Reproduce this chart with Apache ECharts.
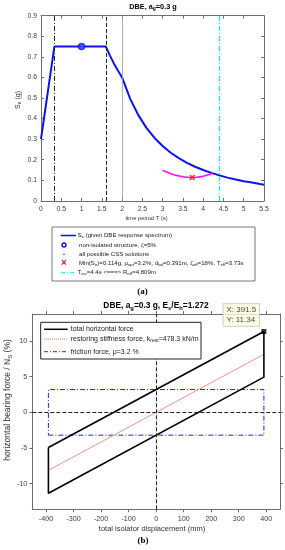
<!DOCTYPE html>
<html><head><meta charset="utf-8">
<script src="https://cdn.jsdelivr.net/npm/echarts@6/dist/echarts.min.js"></script>
<style>html,body{margin:0;padding:0;background:#fff}#c{width:285px;height:550px}</style>
</head><body><div id="c"></div>
<script>
// ---- Chart (a) data ----
const specT  = [0, 0.33, 1.6, 1.7, 1.8, 1.9, 2.0, 2.2, 2.4, 2.6, 2.8, 3.0, 3.2, 3.4, 3.6, 3.8, 4.0, 4.2, 4.4, 4.6, 4.8, 5.0, 5.2, 5.4, 5.5];
const specSe = [0.3, 0.75, 0.75, 0.706, 0.667, 0.632, 0.6, 0.496, 0.417, 0.355, 0.306, 0.267, 0.234, 0.208, 0.185, 0.166, 0.15, 0.136, 0.124, 0.113, 0.104, 0.096, 0.089, 0.082, 0.079];
const cssT   = [3.0, 3.1, 3.2, 3.3, 3.4, 3.5, 3.6, 3.73, 3.85, 3.95, 4.05, 4.15, 4.23];
const cssSe  = [0.149, 0.14, 0.132, 0.126, 0.121, 0.118, 0.115, 0.114, 0.115, 0.118, 0.122, 0.128, 0.134];
const nonIso = [1.0, 0.75];
const minPt  = [3.73, 0.114];
const vT_TB = 0.33, vT_TC = 1.6, vT_TD = 2.0, vT_iso = 4.4;
// ---- Chart (b) data ----
const loopDisp  = [-391.5, 391.5, 391.5, -391.5, -391.5];
const loopForce = [-4.94, 11.34, 4.94, -11.34, -4.94];
const restDisp  = [-391.5, 391.5];
const restForce = [-8.14, 8.14];
const fricDisp  = [-391.5, 391.5, 391.5, -391.5, -391.5];
const fricForce = [-3.2, -3.2, 3.2, 3.2, -3.2];
const tipPt     = [391.5, 11.34];
const xTicksB = [-400,-300,-200,-100,0,100,200,300,400];
const yTicksB = [-10,-5,0,5,10];

const zip = (a,b)=>a.map((v,i)=>[v,b[i]]);
const F = 'Liberation Sans, Arial, sans-serif';
const AX = '#6e6e6e', LB = '#3c3c3c';
const CY = '#19e6f2';

function axA(showLabel, margin){
  return {
    axisLine:{show:true,onZero:false,lineStyle:{color:AX,width:1}},
    axisTick:{show:true,inside:true,length:3,lineStyle:{color:AX}},
    axisLabel:{show:showLabel,fontFamily:F,fontSize:6.8,color:LB,margin:margin||4},
    splitLine:{show:false}
  };
}
function axB(showLabel, ticks, margin){
  return {
    axisLine:{show:true,onZero:false,lineStyle:{color:AX,width:1}},
    axisTick:{show:true,inside:false,length:3,lineStyle:{color:AX},customValues:ticks},
    axisLabel:{show:showLabel,fontFamily:F,fontSize:7.2,color:LB,margin:margin||5,customValues:ticks},
    splitLine:{show:false}
  };
}

const chart = echarts.init(document.getElementById('c'), null, {renderer:'canvas'});
const xSymbol = 'path://M0,2L2,0L5,3L8,0L10,2L7,5L10,8L8,10L5,7L2,10L0,8L3,5Z';

const option = {
  animation:false,
  grid:[
    {left:41, top:15.7, width:223, height:185.2, containLabel:false},
    {left:32.3, top:314, width:247.7, height:195.3, containLabel:false}
  ],
  xAxis:[
    Object.assign(axA(true,5),{type:'value',gridIndex:0,min:0,max:5.5,interval:0.5,position:'bottom'}),
    Object.assign(axA(false),{type:'value',gridIndex:0,min:0,max:5.5,interval:0.5,position:'top'}),
    Object.assign(axB(true,xTicksB,6),{type:'value',gridIndex:1,min:-450,max:450,position:'bottom'}),
    Object.assign(axB(false,xTicksB),{type:'value',gridIndex:1,min:-450,max:450,position:'top'})
  ],
  yAxis:[
    Object.assign(axA(true,4),{type:'value',gridIndex:0,min:0,max:0.9,interval:0.1,position:'left'}),
    Object.assign(axA(false),{type:'value',gridIndex:0,min:0,max:0.9,interval:0.1,position:'right'}),
    Object.assign(axB(true,yTicksB,5),{type:'value',gridIndex:1,min:-13.6,max:13.8,position:'left'}),
    Object.assign(axB(false,yTicksB),{type:'value',gridIndex:1,min:-13.6,max:13.8,position:'right'})
  ],
  series:[
    {type:'line',xAxisIndex:0,yAxisIndex:0,data:[],silent:true,
      markLine:{symbol:'none',silent:true,label:{show:false},animation:false,data:[
        {xAxis:vT_TB, lineStyle:{color:'#222',width:1,type:[5,2,1,2]}},
        {xAxis:vT_TC, lineStyle:{color:'#222',width:1,type:[4,2]}},
        {xAxis:vT_TD, lineStyle:{color:'#999',width:0.8,type:'solid'}},
        {xAxis:vT_iso, lineStyle:{color:CY,width:1.2,type:[5,2,1,2]}}
      ]}},
    {type:'line',xAxisIndex:0,yAxisIndex:0,data:zip(specT,specSe),showSymbol:false,
      lineStyle:{color:'#0a14f0',width:2},z:3},
    {type:'line',xAxisIndex:0,yAxisIndex:0,data:zip(cssT,cssSe),showSymbol:false,smooth:true,
      lineStyle:{color:'#ff10ff',width:1.6},z:3},
    {type:'scatter',xAxisIndex:0,yAxisIndex:0,data:[nonIso],symbol:'circle',symbolSize:6,
      itemStyle:{color:'#3a4cff',borderColor:'#0a14f0',borderWidth:1.5},z:4},
    {type:'scatter',xAxisIndex:0,yAxisIndex:0,data:[minPt],symbol:xSymbol,symbolSize:6,
      itemStyle:{color:'#ff1010'},z:5},
    {type:'line',xAxisIndex:2,yAxisIndex:2,data:[],silent:true,
      markLine:{symbol:'none',silent:true,label:{show:false},animation:false,
        lineStyle:{color:'#222',width:1,type:[4,2]},
        data:[{xAxis:0},{yAxis:0}]}},
    {type:'line',xAxisIndex:2,yAxisIndex:2,data:zip(fricDisp,fricForce),showSymbol:false,
      lineStyle:{color:'#2020ff',width:1,type:[5,2,1,2]},z:3},
    {type:'line',xAxisIndex:2,yAxisIndex:2,data:zip(restDisp,restForce),showSymbol:false,
      lineStyle:{color:'#f49090',width:1},z:3},
    {type:'line',xAxisIndex:2,yAxisIndex:2,data:zip(loopDisp,loopForce),showSymbol:false,
      lineStyle:{color:'#000',width:1.6},z:4},
    {type:'scatter',xAxisIndex:2,yAxisIndex:2,data:[tipPt],symbol:'rect',symbolSize:5,
      itemStyle:{color:'#000'},z:6,
      label:{show:true,position:[-38,-25],formatter:'X: 391.5\nY: 11.34',fontFamily:F,fontSize:8,
        color:'#111',lineHeight:10,backgroundColor:'#fdfbe0',borderColor:'#bbb',borderWidth:0.8,padding:[1,3,1,3],align:'left',verticalAlign:'top'}}
  ],
  graphic:[
    // titles
    {type:'text',x:153,y:7,style:{text:'{b|DBE, a}{s|g}{b|=0.3 g}',align:'center',verticalAlign:'middle',
      rich:{b:{fontSize:7.3,fontFamily:F,fontWeight:'bold'},s:{fontSize:5,fontFamily:F,fontWeight:'bold',padding:[4,0,0,0]}}}},
    {type:'text',x:156,y:306,style:{text:'{b|DBE, a}{s|g}{b|=0.3 g, E}{s|s}{b|/E}{s|h}{b|=1.272}',align:'center',verticalAlign:'middle',
      rich:{b:{fontSize:8.4,fontFamily:F,fontWeight:'bold'},s:{fontSize:5.8,fontFamily:F,fontWeight:'bold',padding:[4,0,0,0]}}}},
    // axis names
    {type:'text',x:18,y:100,rotation:Math.PI/2,style:{text:'{n|S}{s|e}{n| (g)}',align:'center',verticalAlign:'middle',
      rich:{n:{fontSize:7,fontFamily:F,fill:'#333'},s:{fontSize:5,fontFamily:F,fill:'#333',padding:[4,0,0,0]}}}},
    {type:'text',x:146.5,y:218,style:{text:'time period T (s)',align:'center',verticalAlign:'middle',fontSize:5.8,fontFamily:F,fill:'#333'}},
    {type:'text',x:8,y:400,rotation:Math.PI/2,style:{text:'{n|horizontal bearing force / N}{s|S}{n| (%)}',align:'center',verticalAlign:'middle',
      rich:{n:{fontSize:8.5,fontFamily:F,fill:'#333'},s:{fontSize:6,fontFamily:F,fill:'#333',padding:[4,0,0,0]}}}},
    {type:'text',x:152,y:529,style:{text:'total isolator displacement (mm)',align:'center',verticalAlign:'middle',fontSize:7.5,fontFamily:F,fill:'#333'}},
    // (a) (b)
    {type:'text',x:142.5,y:292,style:{text:'(a)',align:'center',verticalAlign:'middle',fontSize:9,fontWeight:'bold',fontFamily:'Liberation Serif, serif',fill:'#000'}},
    {type:'text',x:143,y:541,style:{text:'(b)',align:'center',verticalAlign:'middle',fontSize:9,fontWeight:'bold',fontFamily:'Liberation Serif, serif',fill:'#000'}},
    // legend (a)
    {type:'rect',shape:{x:52,y:227,width:203,height:54},style:{fill:'#fff',stroke:'#555',lineWidth:0.8},z:10},
    {type:'line',shape:{x1:60.7,y1:235.5,x2:76,y2:235.5},style:{stroke:'#0a14f0',lineWidth:1.5},z:11},
    {type:'circle',shape:{cx:64,cy:245,r:2},style:{fill:'none',stroke:'#0a14f0',lineWidth:1.4},z:11},
    {type:'circle',shape:{cx:64,cy:254.3,r:0.9},style:{fill:'#ff10ff'},z:11},
    {type:'text',x:64,y:263,style:{text:'×',align:'center',verticalAlign:'middle',fontSize:10,fontWeight:'bold',fontFamily:F,fill:'#ff1010'},z:11},
    {type:'line',shape:{x1:61,y1:272.7,x2:76,y2:272.7},style:{stroke:CY,lineWidth:1,lineDash:[4,2,1,2]},z:11},
    {type:'text',x:77.5,y:235.5,z:11,style:{text:'{n|S}{s|e}{n| (given DBE response spectrum)}',verticalAlign:'middle',
      rich:{n:{fontSize:6.1,fontFamily:F,fill:'#222'},s:{fontSize:4.3,fontFamily:F,fill:'#222',padding:[3,0,0,0]}}}},
    {type:'text',x:79,y:245,z:11,style:{text:'non-isolated structure, ζ=5%',verticalAlign:'middle',fontSize:6.1,fontFamily:F,fill:'#222'}},
    {type:'text',x:79,y:254.3,z:11,style:{text:'all possible CSS solutions',verticalAlign:'middle',fontSize:6.1,fontFamily:F,fill:'#222'}},
    {type:'text',x:79,y:263,z:11,style:{text:'{n|Min(S}{s|e}{n|)=0.114g, μ}{s|opt}{n|=3.2%, d}{s|bd}{n|=0.391m, ζ}{s|eff}{n|=18%, T}{s|eff}{n|=3.73s}',verticalAlign:'middle',
      rich:{n:{fontSize:6.1,fontFamily:F,fill:'#222'},s:{fontSize:4.3,fontFamily:F,fill:'#222',padding:[3,0,0,0]}}}},
    {type:'text',x:77.5,y:272.7,z:11,style:{text:'{n|T}{s|iso}{n|=4.4s <===> R}{s|eff}{n|=4.809m}',verticalAlign:'middle',
      rich:{n:{fontSize:6.1,fontFamily:F,fill:'#222'},s:{fontSize:4.3,fontFamily:F,fill:'#222',padding:[3,0,0,0]}}}},
    // legend (b)
    {type:'rect',shape:{x:40.7,y:322.3,width:160.3,height:36.7},style:{fill:'#fff',stroke:'#222',lineWidth:1},z:10},
    {type:'line',shape:{x1:44,y1:329.3,x2:67.7,y2:329.3},style:{stroke:'#000',lineWidth:1.5},z:11},
    {type:'line',shape:{x1:44,y1:339,x2:67.7,y2:339},style:{stroke:'#f07070',lineWidth:1,lineDash:[1,1]},z:11},
    {type:'line',shape:{x1:44,y1:351.7,x2:67.7,y2:351.7},style:{stroke:'#2020ff',lineWidth:1,lineDash:[4,2,1,2]},z:11},
    {type:'text',x:70.7,y:329.3,z:11,style:{text:'total horizontal force',verticalAlign:'middle',fontSize:7,fontFamily:F,fill:'#222'}},
    {type:'text',x:70.7,y:339,z:11,style:{text:'{n|restoring stiffness force, k}{s|rest}{n|=478.3 kN/m}',verticalAlign:'middle',
      rich:{n:{fontSize:7,fontFamily:F,fill:'#222'},s:{fontSize:5,fontFamily:F,fill:'#222',padding:[3,0,0,0]}}}},
    {type:'text',x:70.7,y:351.7,z:11,style:{text:'friction force, μ=3.2 %',verticalAlign:'middle',fontSize:7,fontFamily:F,fill:'#222'}}
  ]
};
chart.setOption(option);
</script></body></html>
